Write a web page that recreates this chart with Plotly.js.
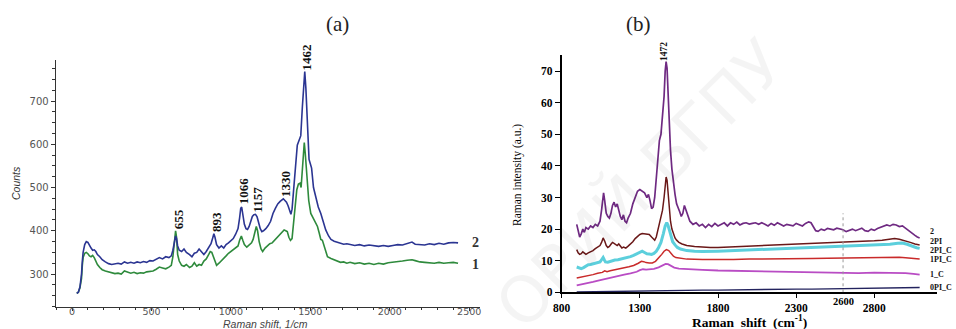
<!DOCTYPE html>
<html>
<head>
<meta charset="utf-8">
<script src="https://cdn.plot.ly/plotly-3.0.1.min.js"></script>
<style>html,body{margin:0;padding:0;background:#fff}#chart{width:956px;height:329px}</style>
</head>
<body>
<div id="chart"></div>
<script>
// ---------- Panel (a): Counts vs Raman shift ----------
const aShift2 = [30,40,50,60,65,70,80,90,100,110,120,130,140,150,160,175,190,210,230,250,270,290,310,330,350,370,390,410,430,450,470,490,510,530,550,570,590,610,625,635,645,652,658,665,675,690,705,720,740,755,770,785,800,815,830,845,860,875,887,893,900,910,925,940,955,970,985,1000,1015,1030,1045,1055,1062,1068,1075,1085,1095,1105,1115,1125,1135,1145,1155,1165,1175,1185,1195,1205,1220,1235,1250,1265,1280,1295,1310,1320,1330,1340,1350,1360,1370,1378,1385,1395,1405,1418,1430,1440,1450,1458,1465,1472,1478,1485,1492,1500,1508,1520,1534,1550,1566,1580,1597,1615,1630,1650,1670,1690,1710,1730,1750,1780,1810,1840,1870,1900,1930,1960,1990,2020,2050,2080,2110,2140,2160,2190,2220,2250,2280,2310,2340,2370,2400,2430];
const aCounts2 = [255,258,270,300,330,350,368,375,373,365,360,355,356,352,345,340,333,328,324,322,323,325,323,328,325,327,325,328,326,329,327,331,330,334,338,335,340,338,342,355,380,388,382,365,355,352,358,350,345,340,348,350,358,350,345,352,360,370,385,393,385,368,360,365,360,368,372,376,382,392,405,430,452,455,440,415,405,403,410,425,433,437,438,432,418,405,398,400,405,412,422,440,452,462,468,472,474,470,466,458,445,438,450,500,550,598,610,620,687,740,768,730,690,620,565,555,545,500,479,455,440,420,402,388,380,376,374,371,369,370,368,366,368,365,367,366,364,366,364,366,368,367,370,374,369,368,367,370,368,371,369,372,373,372];

const aShift1 = [30,40,50,60,65,70,80,90,100,110,120,130,140,150,160,175,190,210,230,250,270,290,310,330,350,370,390,410,430,450,470,490,510,530,550,570,590,610,625,635,645,652,658,665,675,690,705,720,740,755,770,785,800,815,830,845,860,870,880,890,900,910,925,940,955,970,985,1000,1015,1030,1045,1055,1066,1075,1085,1100,1115,1130,1140,1150,1160,1168,1178,1190,1200,1215,1230,1245,1260,1275,1290,1305,1320,1335,1345,1355,1365,1375,1385,1395,1405,1415,1425,1435,1442,1448,1455,1462,1468,1475,1482,1490,1503,1524,1545,1556,1566,1576,1590,1608,1630,1650,1670,1690,1710,1730,1750,1780,1810,1840,1870,1900,1930,1960,1990,2020,2050,2080,2110,2140,2160,2190,2220,2250,2280,2310,2340,2370,2400,2430];
const aCounts1 = [255,258,268,290,320,338,348,350,347,342,340,343,338,330,322,315,310,307,305,302,301,302,300,307,304,302,304,301,303,302,305,306,307,311,316,314,312,316,320,340,375,400,385,345,330,320,318,322,315,318,326,318,322,320,330,335,345,352,350,340,330,320,325,330,335,342,348,352,357,360,365,378,388,378,368,362,368,372,380,395,410,400,375,358,352,360,365,370,372,378,385,392,397,402,400,398,385,378,382,420,460,495,508,510,500,540,580,604,580,540,505,470,440,425,410,395,380,378,362,340,336,333,330,327,328,325,327,324,326,323,325,322,325,323,326,327,328,330,332,333,331,328,327,326,325,327,325,326,327,325];

const aPeaks = [655, 893, 1066, 1157, 1330, 1462];
const aPeakLabelY = [427, 420, 492, 472, 509, 790];
const aPeakLabelShift = [0, 0, 0, 0, 0, 5];
const aXTicks = [0, 500, 1000, 1500, 2000, 2500];
const aYTicks = [300, 400, 500, 600, 700];

// ---------- Panel (b): Raman intensity vs Raman shift ----------
const bShift2 = [896,905,915,925,935,945,955,970,985,1000,1015,1030,1045,1055,1062,1068,1075,1085,1095,1105,1115,1125,1135,1145,1155,1165,1175,1185,1195,1205,1215,1225,1240,1255,1270,1285,1300,1315,1330,1345,1355,1365,1375,1385,1395,1405,1415,1425,1435,1445,1455,1462,1468,1474,1480,1488,1496,1505,1515,1525,1535,1545,1555,1565,1575,1585,1595,1605,1620,1640,1660,1680,1700,1720,1740,1760,1780,1800,1820,1840,1860,1880,1900,1920,1940,1960,1980,2000,2020,2040,2060,2080,2100,2120,2140,2160,2180,2200,2220,2240,2260,2280,2300,2320,2340,2360,2380,2395,2410,2425,2440,2460,2480,2500,2520,2540,2560,2580,2600,2620,2640,2660,2680,2700,2720,2740,2760,2780,2800,2820,2840,2860,2880,2900,2920,2940,2960,2980,3000,3020,3040,3060,3075,3090];
const bInt2 = [21.5,19.5,17.5,18.5,20,19,20.5,20,21,20.5,21.5,21,22.5,26,30,31.5,29,25,24,23.5,25,27.5,28.5,27,28,26,24,23,24.5,22.5,22,23.5,25,28,30,32,32.5,32,31.5,30,31,29,26.5,27,30,36,42,48,50,55,62,70,73,71,62,52,45,39,34,31,28,27,25.5,24,25,27.5,26,24,22.5,21.5,22,21,21.5,20.5,21.5,20.8,21.8,21,21.5,22,21,22,21.5,22.2,21.3,21.8,22,21.6,21.8,22,21.5,22,21.5,21,21.8,21.2,22,21.5,21,21.5,21.2,21,21.8,21.5,21,21.8,22.3,22,20.5,19.5,19.3,20,19.6,20.2,20,19.8,20.3,20,19.8,19.2,19.6,20,19.5,19.8,20.3,19.5,19.3,20,19.6,20.2,20.5,21,21.3,21,21.5,21.3,20.8,21,20.2,19.5,18.8,18,17.5,17.2];

const bShift2PI = [896,905,915,925,935,945,955,970,985,1000,1015,1030,1045,1055,1065,1075,1085,1095,1105,1115,1125,1135,1145,1155,1165,1175,1185,1195,1210,1225,1240,1255,1270,1285,1300,1315,1330,1345,1360,1375,1385,1395,1405,1415,1425,1435,1445,1455,1462,1468,1474,1480,1488,1496,1505,1515,1525,1535,1550,1570,1600,1650,1700,1750,1800,1850,1900,1950,2000,2100,2200,2300,2400,2450,2500,2550,2600,2650,2700,2750,2800,2850,2900,2930,2960,3000,3030,3060,3090];
const bInt2PI = [13.5,12.5,12,12.2,12.8,12.3,12,12.5,12.8,13.2,13.8,14.2,14.8,15.8,17.2,16.2,14.8,14.2,14.5,15.2,15.8,15.5,15.2,14.8,15.3,14.5,14,14.3,14,14.6,15.2,16,17,17.8,18.3,18.6,18.5,18.2,18.3,17.5,16.8,16.5,17.5,19.5,21.5,23.5,26,30,33,36.5,35.5,31,26,22.5,20,18.3,17.2,16.5,15.8,15.3,14.8,14.5,14.3,14.2,14.2,14.3,14.4,14.5,14.6,14.8,15,15.1,15.3,15.6,15.7,15.8,15.9,15.9,16.1,16.2,16.3,16.5,16.8,17,16.8,16.3,15.8,15.3,15];

const bShift2PIC = [896,910,925,940,955,970,985,1000,1015,1030,1045,1055,1065,1072,1080,1095,1110,1125,1140,1160,1180,1200,1220,1240,1260,1280,1300,1315,1330,1345,1360,1375,1390,1405,1420,1435,1450,1462,1472,1480,1490,1500,1510,1525,1540,1560,1580,1600,1650,1700,1800,1900,2000,2100,2200,2300,2400,2500,2600,2700,2800,2900,2950,2980,3010,3040,3070,3090];
const bInt2PIC = [8,7.7,7.5,7.8,8.3,8.7,8.8,9,9.2,9.3,9.6,10.3,11,10.3,9.6,9.5,9.8,10,10.2,10.3,10.5,10.7,11,11.3,11.7,12.2,12.8,13,12.6,12.2,12.1,12,12.3,13,14.2,15.8,18.5,21,22,21.2,19.5,17.5,16,15,14.2,13.7,13.4,13.2,13,12.9,13,13.2,13.4,13.6,13.7,13.9,14.1,14.3,14.4,14.6,14.8,15.2,15.5,15.6,15.2,14.6,14.1,13.9];

const bShift1PIC = [896,920,950,980,1000,1030,1060,1075,1090,1110,1140,1170,1200,1230,1260,1290,1310,1325,1340,1360,1380,1400,1420,1440,1455,1470,1485,1500,1515,1530,1560,1600,1700,1800,1900,2000,2100,2200,2300,2400,2500,2600,2700,2800,2900,2960,3000,3050,3090];
const bInt1PIC = [4.5,4.7,5,5.3,5.6,6,6.3,6.8,6.5,6.8,7.2,7.5,7.8,8.1,8.5,9.2,9.8,9.7,9.4,9.3,9.3,9.8,10.8,12,13,13.5,13.2,12.2,11.4,11,10.7,10.5,10.4,10.3,10.4,10.5,10.5,10.6,10.7,10.7,10.8,10.9,11,11.1,11.2,11.1,10.9,10.6,10.5];

const bShift1C = [896,930,960,1000,1040,1080,1120,1160,1200,1240,1280,1300,1320,1340,1360,1390,1420,1445,1465,1480,1500,1520,1550,1600,1700,1800,1900,2000,2100,2200,2300,2400,2500,2600,2700,2800,2900,2950,3000,3050,3090];
const bInt1C = [2.2,2.5,2.9,3.3,3.8,4.3,4.8,5.2,5.6,6,6.5,7,7.3,7.2,7.2,7.4,7.9,8.6,9,8.9,8.3,7.8,7.5,7.3,7.1,6.9,6.8,6.7,6.6,6.5,6.3,6.2,6.2,6.1,6.1,6.2,6.2,6.3,6.1,5.8,5.6];

const bShift0PIC = [896,1000,1100,1200,1300,1400,1500,1600,1700,1800,1900,2000,2100,2200,2300,2400,2500,2600,2700,2800,2900,3000,3090];
const bInt0PIC = [0.1,0.2,0.3,0.3,0.4,0.5,0.6,0.6,0.7,0.7,0.8,0.8,0.9,0.9,1.0,1.0,1.1,1.1,1.2,1.3,1.3,1.4,1.5];

const bSeriesNames = ['2', '2PI', '2PI_C', '1PI_C', '1_C', '0PI_C'];
const bLabelY = [19.2, 16.1, 13.3, 10.5, 5.5, 1.6];
const bPeak = 1472;
const bPeakLabelY = 75;
const bMarker = 2600;
const bXTicks = [800, 1300, 1800, 2300, 2800];
const bYTicks = [0, 10, 20, 30, 40, 50, 60, 70];

// ---------- build ----------
const W = 956, H = 329;
const px = v => v / W;
const py = v => (H - v) / H;

const traces = [
  {x: aShift1, y: aCounts1, xaxis: 'x', yaxis: 'y', mode: 'lines', line: {color: '#2e8a3c', width: 1.6}},
  {x: aShift2, y: aCounts2, xaxis: 'x', yaxis: 'y', mode: 'lines', line: {color: '#2b3592', width: 1.6}},
  {x: bShift0PIC, y: bInt0PIC, xaxis: 'x2', yaxis: 'y2', mode: 'lines', line: {color: '#23235e', width: 1.4}},
  {x: bShift1C, y: bInt1C, xaxis: 'x2', yaxis: 'y2', mode: 'lines', line: {color: '#b94cc4', width: 1.8}},
  {x: bShift1PIC, y: bInt1PIC, xaxis: 'x2', yaxis: 'y2', mode: 'lines', line: {color: '#c92a2a', width: 1.5}},
  {x: bShift2PIC, y: bInt2PIC, xaxis: 'x2', yaxis: 'y2', mode: 'lines', line: {color: '#5ccfdc', width: 3}},
  {x: bShift2PI, y: bInt2PI, xaxis: 'x2', yaxis: 'y2', mode: 'lines', line: {color: '#6a1818', width: 1.5}},
  {x: bShift2, y: bInt2, xaxis: 'x2', yaxis: 'y2', mode: 'lines', line: {color: '#6f2a82', width: 1.7}}
];

const serifB = {family: 'Liberation Serif', size: 11.5, color: '#000', weight: 700};
const annotations = [];
function ann(o) { annotations.push(Object.assign({showarrow: false, xanchor: 'center', yanchor: 'middle'}, o)); }

// watermark
ann({xref: 'paper', yref: 'paper', x: px(640), y: py(185), text: 'ОРИЙ БГПУ', textangle: -45,
  font: {family: 'DejaVu Sans', size: 64, color: 'rgba(0,0,0,0.045)'}});

// panel titles
ann({xref: 'paper', yref: 'paper', x: px(337), y: py(24), text: '(a)', font: {family: 'Liberation Serif', size: 21, color: '#222'}});
ann({xref: 'paper', yref: 'paper', x: px(638), y: py(24), text: '(b)', font: {family: 'Liberation Serif', size: 21, color: '#222'}});

// axis titles (a)
ann({xref: 'paper', yref: 'paper', x: px(265), y: py(324), text: '<i>Raman shift, 1/cm</i>',
  font: {family: 'Liberation Sans', size: 10.5, color: '#444'}});
ann({xref: 'paper', yref: 'paper', x: px(16), y: py(183), text: '<i>Counts</i>', textangle: -90,
  font: {family: 'Liberation Sans', size: 10.5, color: '#333'}});
// axis titles (b)
ann({xref: 'paper', yref: 'paper', x: px(749), y: py(321), text: 'Raman  shift  (cm<sup>-1</sup>)',
  font: {family: 'Liberation Serif', size: 13.5, color: '#000', weight: 700}});
ann({xref: 'paper', yref: 'paper', x: px(517), y: py(175), text: 'Raman intensity (a.u.)', textangle: -90,
  font: {family: 'Liberation Serif', size: 11.5, color: '#000'}});

// peak labels (a)
aPeaks.forEach((p, i) => ann({xref: 'x', yref: 'y', x: p, y: aPeakLabelY[i], text: String(p), textangle: -90,
  xshift: 2, yshift: aPeakLabelShift[i],
  font: {family: 'Liberation Serif', size: 13, color: '#111', weight: 700}}));
// curve labels (a)
ann({xref: 'x', yref: 'y', x: 2542, y: aCounts2[aCounts2.length - 1] + 2, text: '2',
  font: {family: 'Liberation Serif', size: 14, color: '#333', weight: 700}});
ann({xref: 'x', yref: 'y', x: 2542, y: aCounts1[aCounts1.length - 1] - 2, text: '1',
  font: {family: 'Liberation Serif', size: 14, color: '#333', weight: 700}});

// peak label (b)
ann({xref: 'x2', yref: 'y2', x: bPeak, y: bPeakLabelY, text: String(bPeak), textangle: -90, xshift: -2, yshift: 4,
  font: {family: 'Liberation Serif', size: 9.5, color: '#111', weight: 700}});
// series labels (b)
bSeriesNames.forEach((n, i) => ann({xref: 'x2', yref: 'y2', x: 3144, y: bLabelY[i], text: n, xanchor: 'left',
  font: {family: 'Liberation Serif', size: 8, color: '#111', weight: 700}}));
// 2600 marker label
ann({xref: 'x2', yref: 'paper', x: bMarker, y: py(301), text: String(bMarker),
  font: {family: 'Liberation Serif', size: 10.5, color: '#000', weight: 700}});

const shapes = [
  {type: 'line', xref: 'x2', yref: 'y2', x0: bMarker, x1: bMarker, y0: 0, y1: 25,
   line: {color: '#9a9a9a', width: 1, dash: 'dot'}}
];

const layout = {
  width: W, height: H,
  margin: {l: 0, r: 0, t: 0, b: 0, pad: 0},
  paper_bgcolor: '#fff', plot_bgcolor: 'rgba(0,0,0,0)',
  showlegend: false,
  xaxis: {domain: [px(56), px(480)], range: [-100.7, 2568], anchor: 'y',
    showline: true, linecolor: '#333', linewidth: 1.3, ticks: 'outside', ticklen: 3, tickcolor: '#333',
    tickvals: aXTicks, ticktext: aXTicks.map(String), showgrid: false, zeroline: false,
    ticklabelstandoff: -8,
    minor: {dtick: 100, tick0: 0, ticks: 'outside', ticklen: 2, tickcolor: '#333'},
    tickfont: {family: 'DejaVu Sans', size: 9.5, color: '#555'}},
  yaxis: {domain: [py(307), py(60)], range: [223.7, 795], anchor: 'x',
    showline: true, linecolor: '#333', linewidth: 1.3, ticks: 'outside', ticklen: 4, tickcolor: '#333',
    tickvals: aYTicks, ticktext: aYTicks.map(String), showgrid: false, zeroline: false,
    minor: {dtick: 25, tick0: 0, ticks: 'outside', ticklen: 2.5, tickcolor: '#333'},
    tickfont: {family: 'DejaVu Sans', size: 10, color: '#555'}},
  xaxis2: {domain: [px(561.7), px(937)], range: [800, 3201], anchor: 'y2',
    showline: true, linecolor: '#000', linewidth: 2, ticks: 'outside', ticklen: 4, tickcolor: '#000',
    tickvals: bXTicks, ticktext: bXTicks.map(String), showgrid: false, zeroline: false,
    tickfont: serifB},
  yaxis2: {domain: [py(292.3), py(55)], range: [0, 75.1], anchor: 'x2',
    showline: true, linecolor: '#000', linewidth: 2, ticks: 'outside', ticklen: 5, tickcolor: '#000',
    tickvals: bYTicks, ticktext: bYTicks.map(String), showgrid: false, zeroline: false,
    tickfont: serifB},
  annotations: annotations,
  shapes: shapes
};

Plotly.newPlot('chart', traces, layout, {staticPlot: true, displayModeBar: false});
</script>
</body>
</html>
